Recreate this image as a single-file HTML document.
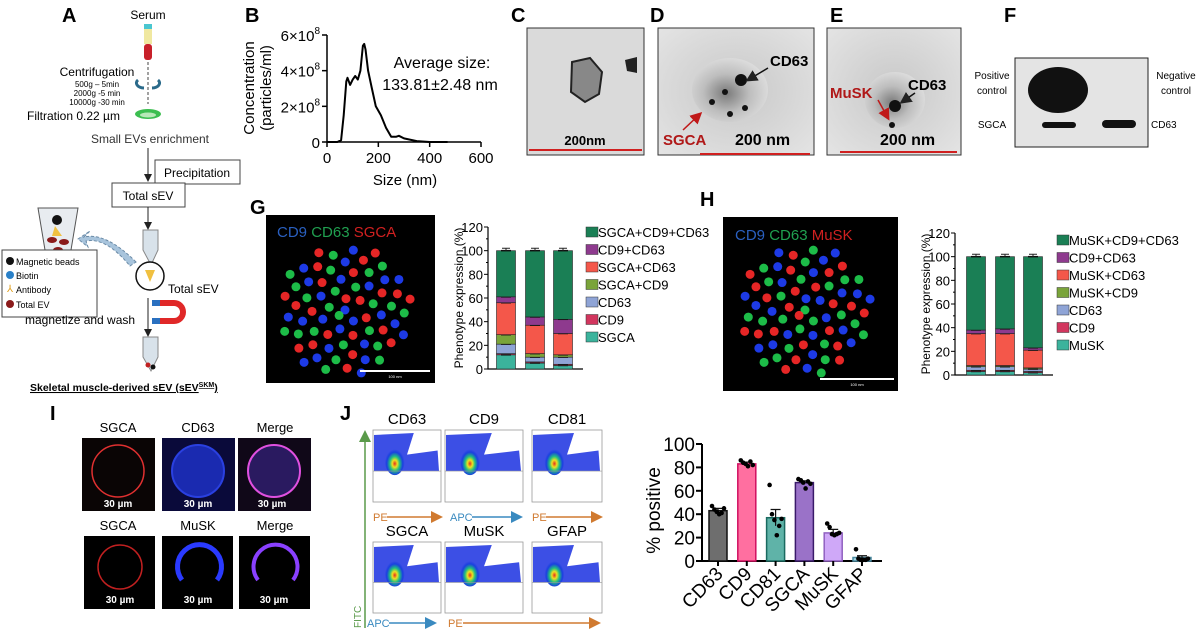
<!DOCTYPE html>
<html><head><meta charset="utf-8"><style>
html,body{margin:0;padding:0;background:#fff}
svg{display:block;font-family:"Liberation Sans",Arial,sans-serif}
</style></head><body>
<svg id="fig" width="1199" height="633" viewBox="0 0 1199 633" xmlns="http://www.w3.org/2000/svg">
<defs>
<radialGradient id="em" cx="50%" cy="50%" r="70%"><stop offset="0" stop-color="#c8c8c8"/><stop offset="1" stop-color="#e4e4e4"/></radialGradient>
<radialGradient id="em2" cx="45%" cy="55%" r="60%"><stop offset="0" stop-color="#7a7a7a"/><stop offset="0.5" stop-color="#bdbdbd"/><stop offset="1" stop-color="#e0e0e0"/></radialGradient>
<radialGradient id="heat" cx="50%" cy="60%" r="50%"><stop offset="0" stop-color="#e03020"/><stop offset="0.25" stop-color="#f0e020"/><stop offset="0.5" stop-color="#20c080"/><stop offset="0.8" stop-color="#1a40e0"/><stop offset="1" stop-color="#1a40e0" stop-opacity="0"/></radialGradient>
<marker id="arr" markerWidth="8" markerHeight="8" refX="6" refY="4" orient="auto"><path d="M0,0 L8,4 L0,8 z" fill="#222"/></marker>
<marker id="arrO" markerWidth="8" markerHeight="8" refX="6" refY="4" orient="auto"><path d="M0,0 L8,4 L0,8 z" fill="#d07a30"/></marker>
<marker id="arrB" markerWidth="8" markerHeight="8" refX="6" refY="4" orient="auto"><path d="M0,0 L8,4 L0,8 z" fill="#3a8ac0"/></marker>
<marker id="arrG" markerWidth="8" markerHeight="8" refX="4" refY="4" orient="auto"><path d="M0,0 L8,4 L0,8 z" fill="#5a9a4a"/></marker>
<marker id="arrR" markerWidth="8" markerHeight="8" refX="6" refY="4" orient="auto"><path d="M0,0 L8,4 L0,8 z" fill="#c01818"/></marker>
</defs>

<!-- Panel A -->
<g>
<text x="62" y="22" font-size="20" font-weight="bold">A</text>
<text x="148" y="19" font-size="12" text-anchor="middle">Serum</text>
<rect x="144" y="24" width="8" height="5" fill="#4ac6d0"/>
<rect x="144" y="29" width="8" height="15" fill="#f0e8a0"/>
<rect x="144" y="44" width="8" height="16" rx="3" fill="#c8202a"/>
<line x1="148" y1="62" x2="148" y2="104" stroke="#444" stroke-dasharray="3,2"/>
<text x="97" y="76" font-size="12" text-anchor="middle">Centrifugation</text>
<text x="97" y="87" font-size="8" text-anchor="middle">500g – 5min</text>
<text x="97" y="96" font-size="8" text-anchor="middle">2000g -5 min</text>
<text x="97" y="105" font-size="8" text-anchor="middle">10000g -30 min</text>
<path d="M138,80 a8,5 0 0,0 6,8 M158,80 a8,5 0 0,1 -6,8" stroke="#2a6a8a" stroke-width="3" fill="none"/>
<text x="27" y="120" font-size="12">Filtration 0.22 µm</text>
<ellipse cx="148" cy="114" rx="13" ry="5" fill="#3cbe50"/>
<ellipse cx="148" cy="115" rx="8" ry="2.5" fill="#b8e8b8"/>
<text x="150" y="143" font-size="12" text-anchor="middle" fill="#333">Small EVs enrichment</text>
<line x1="148" y1="148" x2="148" y2="180" stroke="#222" marker-end="url(#arr)"/>
<rect x="155" y="160" width="85" height="24" fill="#fff" stroke="#444"/>
<text x="197" y="177" font-size="12" text-anchor="middle">Precipitation</text>
<rect x="112" y="183" width="73" height="24" fill="#fff" stroke="#444"/>
<text x="148" y="200" font-size="12" text-anchor="middle">Total sEV</text>
<line x1="148" y1="207" x2="148" y2="228" stroke="#222" marker-end="url(#arr)"/>
<path d="M143,230 h15 v20 l-7,15 l-8,-15 z" fill="#d8e2ea" stroke="#888"/>
<circle cx="150" cy="276" r="14" fill="#fff" stroke="#111" stroke-width="1.5"/>
<path d="M145,270 h10 l-5,12 z" fill="#f0c040"/>
<path d="M38,208 l8,48 q12,10 24,0 l8,-48 z" fill="#e8ecf0" stroke="#555"/>
<circle cx="57" cy="220" r="5" fill="#111"/><path d="M55,226 l-3,10 h10 z" fill="#f0c040"/>
<ellipse cx="52" cy="240" rx="5" ry="3" fill="#8a1a1a"/><ellipse cx="64" cy="242" rx="5" ry="3" fill="#8a1a1a"/><ellipse cx="58" cy="250" rx="5" ry="3" fill="#8a1a1a"/>
<path d="M136,262 q-30,-30 -52,-25 l6,-6 l-12,8 l10,8 l-2,-6 q20,-4 44,25 z" fill="#a8c4dc" stroke="#6a8aa6" stroke-dasharray="3,2"/>
<rect x="2" y="250" width="95" height="67" fill="#fff" stroke="#444"/>
<circle cx="10" cy="261" r="4" fill="#111"/><text x="16" y="265" font-size="9">Magnetic beads</text>
<circle cx="10" cy="275" r="4" fill="#2a80c8"/><text x="16" y="279" font-size="9">Biotin</text>
<text x="7" y="292" font-size="10" fill="#e0a020">⅄</text><text x="16" y="293" font-size="9">Antibody</text>
<circle cx="10" cy="304" r="4" fill="#8a1a1a"/><text x="16" y="308" font-size="9">Total EV</text>
<text x="168" y="293" font-size="12">Total sEV</text>
<text x="25" y="324" font-size="12">magnetize and wash</text>
<path d="M160,300 h14 a12,12 0 0,1 0,24 h-14 v-6 h14 a6,6 0 0,0 0,-12 h-14 z" fill="#e02828"/>
<rect x="152" y="300" width="8" height="6" fill="#2a70c0"/><rect x="152" y="318" width="8" height="6" fill="#2a70c0"/>
<line x1="148" y1="298" x2="148" y2="335" stroke="#222" marker-end="url(#arr)"/>
<path d="M143,337 h15 v20 l-7,14 l-8,-14 z" fill="#d8e2ea" stroke="#888"/>
<circle cx="148" cy="365" r="2.5" fill="#c02020"/><circle cx="153" cy="367" r="2.5" fill="#111"/>
<text x="30" y="391" font-size="10.5" font-weight="bold" text-decoration="underline">Skeletal muscle-derived sEV (sEV<tspan font-size="7" dy="-4">SKM</tspan><tspan dy="4">)</tspan></text>
</g>

<!-- Panel B -->
<g>
<text x="245" y="22" font-size="20" font-weight="bold">B</text>
<g id="bchart"></g>
</g>

<!-- Panel C-E EM images -->
<g>
<text x="511" y="22" font-size="20" font-weight="bold">C</text>
<rect x="527" y="28" width="117" height="127" fill="#dadada" stroke="#333"/>
<path d="M572,62 l18,-4 l12,14 l-3,22 l-14,8 l-14,-10 z" fill="#888" stroke="#222" stroke-width="2"/>
<path d="M625,60 l12,-3 v16 l-10,-2 z" fill="#222"/>
<line x1="529" y1="150" x2="642" y2="150" stroke="#d02020" stroke-width="2"/>
<text x="585" y="145" font-size="13" font-weight="bold" text-anchor="middle">200nm</text>
</g>
<g>
<text x="650" y="22" font-size="20" font-weight="bold">D</text>
<rect x="658" y="28" width="156" height="127" fill="url(#em)" stroke="#333"/>
<ellipse cx="730" cy="90" rx="38" ry="32" fill="url(#em2)"/>
<circle cx="741" cy="80" r="6" fill="#111"/><circle cx="725" cy="92" r="3" fill="#111"/><circle cx="745" cy="108" r="3" fill="#111"/><circle cx="712" cy="102" r="3" fill="#111"/><circle cx="730" cy="114" r="3" fill="#111"/>
<line x1="768" y1="68" x2="748" y2="80" stroke="#111" stroke-width="1.5" marker-end="url(#arr)"/>
<text x="770" y="66" font-size="15" font-weight="bold">CD63</text>
<line x1="683" y1="130" x2="700" y2="114" stroke="#c01818" stroke-width="1.5" marker-end="url(#arrR)"/>
<text x="663" y="145" font-size="15" font-weight="bold" fill="#b01818">SGCA</text>
<text x="735" y="145" font-size="16" font-weight="bold">200 nm</text>
<line x1="700" y1="154" x2="810" y2="154" stroke="#d02020" stroke-width="2"/>
</g>
<g>
<text x="830" y="22" font-size="20" font-weight="bold">E</text>
<rect x="827" y="28" width="134" height="127" fill="url(#em)" stroke="#333"/>
<ellipse cx="895" cy="100" rx="30" ry="28" fill="url(#em2)"/>
<circle cx="895" cy="106" r="6" fill="#111"/><circle cx="892" cy="125" r="3" fill="#111"/>
<text x="908" y="90" font-size="15" font-weight="bold">CD63</text>
<line x1="915" y1="93" x2="902" y2="102" stroke="#111" stroke-width="1.5" marker-end="url(#arr)"/>
<text x="830" y="98" font-size="15" font-weight="bold" fill="#b01818">MuSK</text>
<line x1="878" y1="100" x2="888" y2="118" stroke="#c01818" stroke-width="1.5" marker-end="url(#arrR)"/>
<text x="880" y="145" font-size="16" font-weight="bold">200 nm</text>
<line x1="840" y1="152" x2="957" y2="152" stroke="#d02020" stroke-width="2"/>
</g>
<g>
<text x="1004" y="22" font-size="20" font-weight="bold">F</text>
<rect x="1015" y="58" width="133" height="89" fill="#e4e4e4" stroke="#222"/>
<ellipse cx="1058" cy="90" rx="30" ry="23" fill="#111"/>
<rect x="1042" y="122" width="34" height="6" rx="3" fill="#111"/>
<rect x="1102" y="120" width="34" height="8" rx="4" fill="#111"/>
<text x="992" y="79" font-size="10" text-anchor="middle">Positive</text>
<text x="992" y="94" font-size="10" text-anchor="middle">control</text>
<text x="992" y="128" font-size="10" text-anchor="middle">SGCA</text>
<text x="1176" y="79" font-size="10" text-anchor="middle">Negative</text>
<text x="1176" y="94" font-size="10" text-anchor="middle">control</text>
<text x="1151" y="128" font-size="10">CD63</text>
</g>

<!-- Panel G / H images -->
<g>
<text x="250" y="214" font-size="20" font-weight="bold">G</text>
<rect x="266" y="215" width="169" height="168" fill="#000"/>
<text x="277" y="237" font-size="15"><tspan fill="#2a60c0">CD9 </tspan><tspan fill="#20a050">CD63 </tspan><tspan fill="#d02020">SGCA</tspan></text>
<g id="gdots"></g>
<line x1="360" y1="371" x2="430" y2="371" stroke="#fff" stroke-width="2"/>
<text x="395" y="378" font-size="4" fill="#fff" text-anchor="middle">100 nm</text>
</g>
<g>
<text x="700" y="206" font-size="20" font-weight="bold">H</text>
<rect x="723" y="217" width="175" height="174" fill="#000"/>
<text x="735" y="240" font-size="15"><tspan fill="#2a60c0">CD9 </tspan><tspan fill="#20a050">CD63 </tspan><tspan fill="#d02020">MuSK</tspan></text>
<g id="hdots"></g>
<line x1="820" y1="379" x2="894" y2="379" stroke="#fff" stroke-width="2"/>
<text x="857" y="386" font-size="4" fill="#fff" text-anchor="middle">100 nm</text>
</g>
<g id="gchart"></g>
<g id="hchart"></g>

<!-- Panel I -->
<g>
<text x="50" y="420" font-size="20" font-weight="bold">I</text>
<text x="118" y="432" font-size="13" text-anchor="middle">SGCA</text>
<text x="198" y="432" font-size="13" text-anchor="middle">CD63</text>
<text x="275" y="432" font-size="13" text-anchor="middle">Merge</text>
<rect x="82" y="438" width="73" height="73" fill="#0a0505"/>
<circle cx="118" cy="471" r="26" fill="none" stroke="#e03030" stroke-width="1.5"/>
<rect x="162" y="438" width="73" height="73" fill="#0a0a3a"/>
<circle cx="198" cy="471" r="26" fill="#1a2ab0" stroke="#2a40e0" stroke-width="2"/>
<rect x="238" y="438" width="73" height="73" fill="#100818"/>
<circle cx="274" cy="471" r="26" fill="#2a1a60" stroke="#e050e0" stroke-width="2"/>
<text x="118" y="507" font-size="10" font-weight="bold" fill="#fff" text-anchor="middle">30 µm</text>
<text x="198" y="507" font-size="10" font-weight="bold" fill="#fff" text-anchor="middle">30 µm</text>
<text x="272" y="507" font-size="10" font-weight="bold" fill="#fff" text-anchor="middle">30 µm</text>
<text x="118" y="530" font-size="13" text-anchor="middle">SGCA</text>
<text x="198" y="530" font-size="13" text-anchor="middle">MuSK</text>
<text x="275" y="530" font-size="13" text-anchor="middle">Merge</text>
<rect x="84" y="536" width="71" height="73" fill="#000"/>
<circle cx="120" cy="567" r="22" fill="none" stroke="#c02020" stroke-width="1.5"/>
<rect x="162" y="536" width="71" height="73" fill="#000"/>
<path d="M182,580 a22,22 0 1,1 35,0" fill="none" stroke="#2a3aff" stroke-width="5"/>
<rect x="239" y="536" width="71" height="73" fill="#000"/>
<path d="M258,580 a22,22 0 1,1 35,0" fill="none" stroke="#8a40ff" stroke-width="4"/>
<text x="120" y="603" font-size="10" font-weight="bold" fill="#fff" text-anchor="middle">30 µm</text>
<text x="198" y="603" font-size="10" font-weight="bold" fill="#fff" text-anchor="middle">30 µm</text>
<text x="274" y="603" font-size="10" font-weight="bold" fill="#fff" text-anchor="middle">30 µm</text>
</g>

<!-- Panel J flow -->
<g>
<text x="340" y="420" font-size="20" font-weight="bold">J</text>
<line x1="365" y1="628" x2="365" y2="436" stroke="#5a9a4a" stroke-width="1.5" marker-end="url(#arrG)"/>
<text x="361" y="628" font-size="10" fill="#5a9a4a" transform="rotate(-90 361 628)">FITC</text>
<g id="flow"></g>
<text x="373" y="521" font-size="11" fill="#d07a30">PE</text><line x1="387" y1="517" x2="440" y2="517" stroke="#d07a30" stroke-width="1.5" marker-end="url(#arrO)"/>
<text x="450" y="521" font-size="11" fill="#3a8ac0">APC</text><line x1="472" y1="517" x2="520" y2="517" stroke="#3a8ac0" stroke-width="1.5" marker-end="url(#arrB)"/>
<text x="532" y="521" font-size="11" fill="#d07a30">PE</text><line x1="546" y1="517" x2="600" y2="517" stroke="#d07a30" stroke-width="1.5" marker-end="url(#arrO)"/>
<text x="367" y="627" font-size="11" fill="#3a8ac0">APC</text><line x1="389" y1="623" x2="434" y2="623" stroke="#3a8ac0" stroke-width="1.5" marker-end="url(#arrB)"/>
<text x="448" y="627" font-size="11" fill="#d07a30">PE</text><line x1="463" y1="623" x2="598" y2="623" stroke="#d07a30" stroke-width="1.5" marker-end="url(#arrO)"/>
</g>
<g id="jchart"></g>
</svg>

<script>
// ---- Panel B data ----
const bSizes = [0,40,55,65,75,80,90,100,110,120,130,140,145,150,160,175,190,210,230,250,270,280,300,350,400,470];
const bConc  = [0,0,0.1,1.5,3.4,3.6,3.2,3.5,3.7,3.5,4.0,5.4,5.5,5.2,4.0,3.0,2.0,1.5,0.8,0.3,0.3,0.35,0.2,0.05,0,0];
const bXTicks = [0,200,400,600];
const bYTicks = [0,2,4,6];

// ---- Panel G/H data (stack order bottom→top) ----
const gSeries = ["SGCA","CD9","CD63","SGCA+CD9","SGCA+CD63","CD9+CD63","SGCA+CD9+CD63"];
const gBar1 = [12,1,8,8,27,5,39];
const gBar2 = [5,1,4,3,24,7,56];
const gBar3 = [3,1,6,2,18,12,58];
const hSeries = ["MuSK","CD9","CD63","MuSK+CD9","MuSK+CD63","CD9+CD63","MuSK+CD9+CD63"];
const hBar1 = [3,1,3,1,27,3,62];
const hBar2 = [3,1,3,1,27,4,61];
const hBar3 = [2,1,2,1,15,2,77];
const stackYTicks = [0,20,40,60,80,100,120];
const stackColors = ["#3bb39c","#d2365e","#8fa4d6","#7aa43a","#f4574a","#8e3a8e","#1a7f55"];

// ---- Panel J data ----
const jCats = ["CD63","CD9","CD81","SGCA","MuSK","GFAP"];
const jMeans = [43,83,37,67,24,3];
const jErr = [2,1.5,7,1.5,3,1.5];
const jPts = [[47,44,42,40,41,45],[86,84,83,81,85,82],[65,40,35,22,30,36],[70,69,67,62,68,66],[32,29,23,22,23,24],[10,2,1,1,1,2]];
const jYTicks = [0,20,40,60,80,100];
const jFill = ["#6e6e6e","#ff6fa0","#5fb3a8","#9a72c8","#cfa8f8","#a8d8e8"];
const jStroke = ["#111","#d01060","#1a6a60","#3a1a6a","#9060c0","#4a8aa0"];

const NS="http://www.w3.org/2000/svg";
function mk(parent, tag, attrs, text){const e=document.createElementNS(NS,tag);for(const k in attrs)e.setAttribute(k,attrs[k]);if(text!==undefined)e.textContent=text;parent.appendChild(e);return e;}

// Panel B
(function(){
 const g=document.getElementById('bchart');
 const x0=327,x1=481,y0=142,y1=35;
 const sx=v=>x0+(v-0)/600*(x1-x0), sy=v=>y0-(v/6)*(y0-y1);
 const ax=mk(g,'path',{d:`M${x0},${y1} V${y0} H${x1}`,stroke:'#000','stroke-width':1.5,fill:'none'});
 
 bXTicks.forEach(t=>{mk(g,'line',{x1:sx(t),x2:sx(t),y1:y0,y2:y0+5,stroke:'#000','stroke-width':1.5});
  const l=mk(g,'text',{x:sx(t),y:y0+21,'font-size':15,'text-anchor':'middle'},String(t));
  });
 bYTicks.forEach(t=>{mk(g,'line',{x1:x0-5,x2:x0,y1:sy(t),y2:sy(t),stroke:'#000','stroke-width':1.5});
  const l=mk(g,'text',{x:x0-7,y:sy(t)+6,'font-size':15,'text-anchor':'end'});
  if(t===0)l.textContent='0';else{l.textContent=t+'×10';const s=mk(l,'tspan',{'font-size':10,dy:-7},'8');}
  });
 const d=bSizes.map((s,i)=>(i?'L':'M')+sx(s).toFixed(1)+','+sy(bConc[i]).toFixed(1)).join(' ');
 const p=mk(g,'path',{d,stroke:'#000','stroke-width':2,fill:'none','stroke-linejoin':'round'});
 
 const t1=mk(g,'text',{x:442,y:68,'font-size':16,'text-anchor':'middle'},'Average size:');
 
 mk(g,'text',{x:440,y:90,'font-size':16,'text-anchor':'middle'},'133.81±2.48 nm');
 const xt=mk(g,'text',{x:405,y:185,'font-size':15,'text-anchor':'middle'},'Size (nm)');
 
 const yt=mk(g,'text',{x:0,y:0,'font-size':15,'text-anchor':'middle',transform:'translate(254,88) rotate(-90)'},'Concentration');
 
 mk(g,'text',{x:0,y:0,'font-size':15,'text-anchor':'middle',transform:'translate(271,88) rotate(-90)'},'(particles/ml)');
})();

// Stacked charts
function stacked(id,bars,series,ax){
 const g=document.getElementById(id);
 const sy=v=>ax.y0-v/120*(ax.y0-ax.y120);
 const a=mk(g,'path',{d:`M${ax.x0},${ax.y120} V${ax.y0} H${ax.x1}`,stroke:'#000','stroke-width':1.2,fill:'none'});
 
 stackYTicks.forEach(t=>{mk(g,'line',{x1:ax.x0-4,x2:ax.x0,y1:sy(t),y2:sy(t),stroke:'#000'});
  if(t<120)mk(g,'line',{x1:ax.x0-2,x2:ax.x0,y1:sy(t+10),y2:sy(t+10),stroke:'#000'});
  const l=mk(g,'text',{x:ax.x0-5,y:sy(t)+5,'font-size':13,'text-anchor':'end'},String(t));
  });
 const yt=mk(g,'text',{x:0,y:0,'font-size':12,'text-anchor':'middle',transform:`translate(${ax.x0-25},${(ax.y0+ax.y120)/2}) rotate(-90)`},'Phenotype expression (%)');
 
 bars.forEach((vals,bi)=>{let acc=0;const cx=ax.cx[bi];
  vals.forEach((v,si)=>{const r=mk(g,'rect',{x:cx-9.5,y:sy(acc+v),width:19,height:sy(acc)-sy(acc+v),fill:stackColors[si],stroke:'#222','stroke-width':0.6});
   
   
   acc+=v;mk(g,'line',{x1:cx-5,x2:cx+5,y1:sy(acc),y2:sy(acc),stroke:'#111','stroke-width':1.5});});
  mk(g,'path',{d:`M${cx},${sy(acc)} V${sy(acc+2)} M${cx-4},${sy(acc+2)} H${cx+4}`,stroke:'#222',fill:'none'});});
 for(let i=series.length-1,k=0;i>=0;i--,k++){const y=ax.ly+k*17.5;
  const r=mk(g,'rect',{x:ax.lx,y:y-9,width:12,height:10,fill:stackColors[i],stroke:'#333','stroke-width':0.5});
  
  const t=mk(g,'text',{x:ax.lx+12,y:y+1,'font-size':13},series[i]);
  }
}
stacked('gchart',[gBar1,gBar2,gBar3],gSeries,{x0:488,x1:583,y0:369,y120:227,cx:[506,535,563],lx:586,ly:236});
stacked('hchart',[hBar1,hBar2,hBar3],hSeries,{x0:955,x1:1053,y0:375,y120:233,cx:[976,1005,1033],lx:1057,ly:244});

// Panel J bar chart
(function(){
 const g=document.getElementById('jchart');
 const x0=702,x1=882,y0=561,y100=444;const sy=v=>y0-v/100*(y0-y100);const cx=i=>718+i*28.8;
 const a=mk(g,'path',{d:`M${x0},${y100} V${y0} H${x1}`,stroke:'#000','stroke-width':2,fill:'none'});
 
 jYTicks.forEach(t=>{mk(g,'line',{x1:x0-6,x2:x0,y1:sy(t),y2:sy(t),stroke:'#000','stroke-width':2});
  const l=mk(g,'text',{x:x0-7,y:sy(t)+7,'font-size':19,'text-anchor':'end'},String(t));
  });
 const yt=mk(g,'text',{x:0,y:0,'font-size':19,'text-anchor':'middle',transform:`translate(${x0-42},${(y0+y100)/2+8}) rotate(-90)`},'% positive');
 
 jCats.forEach((c,i)=>{const x=cx(i);
  const r=mk(g,'rect',{x:x-9,y:sy(jMeans[i]),width:18,height:sy(0)-sy(jMeans[i]),fill:jFill[i],stroke:jStroke[i],'stroke-width':1.5});
  
  mk(g,'path',{d:`M${x},${sy(jMeans[i]-jErr[i])} V${sy(jMeans[i]+jErr[i])} M${x-5},${sy(jMeans[i]+jErr[i])} H${x+5}`,stroke:'#111','stroke-width':1.2,fill:'none'});
  jPts[i].forEach((p,k)=>{const d=mk(g,'circle',{cx:x-6+k*2.4,cy:sy(p),r:2.3,fill:'#000'});
   });
  mk(g,'line',{x1:x,x2:x,y1:y0,y2:y0+5,stroke:'#000','stroke-width':2});
  const l=mk(g,'text',{x:0,y:0,'font-size':19,'text-anchor':'end',transform:`translate(${x+6},${y0+14}) rotate(-45)`},c);
  });
})();

// Decorative fluorescence dots (fixed, deterministic)
function dots(id,cx,cy,mix){const g=document.getElementById(id);const cols=['#2040ff','#20d050','#ff2a2a'];
 for(let i=0;i<70;i++){const a=i*2.39996,r=Math.sqrt(i)*8;const c=cols[(i*7+mix)%3];
  mk(g,'circle',{cx:cx+Math.cos(a)*r,cy:cy+Math.sin(a)*r,r:4.5,fill:c,opacity:0.9});}}
dots('gdots',345,310,0);dots('hdots',805,310,1);

// Flow panels
(function(){const g=document.getElementById('flow');
 const panels=[["CD63",373,430,441,502],["CD9",445,430,523,502],["CD81",532,430,602,502],["SGCA",373,542,441,613],["MuSK",445,542,523,613],["GFAP",532,542,602,613]];
 panels.forEach(p=>{const [t,x0,y0,x1,y1]=p;
  const r=mk(g,'rect',{x:x0,y:y0,width:x1-x0,height:y1-y0,fill:'#fff',stroke:'#999','stroke-width':0.8});
  
  const h=(y1-y0)*0.57;
  mk(g,'path',{d:`M${x0+1},${y0+h} L${x0+1},${y0+5} L${x0+(x1-x0)*0.6},${y0+3} L${x0+(x1-x0)*0.5},${y0+h*0.6} L${x0+(x1-x0)*0.95},${y0+h*0.5} L${x1-2},${y0+h} Z`,fill:'#1a30e0',opacity:0.85});
  mk(g,'ellipse',{cx:x0+(x1-x0)*0.32,cy:y0+h*0.75,rx:10,ry:h*0.35,fill:'url(#heat)'});
  mk(g,'line',{x1:x0,x2:x1,y1:y0+h,y2:y0+h,stroke:'#999','stroke-width':0.6});
  const l=mk(g,'text',{x:(x0+x1)/2,y:y0-6,'font-size':15,'text-anchor':'middle'},t);
  });
})();
</script>
</body></html>
